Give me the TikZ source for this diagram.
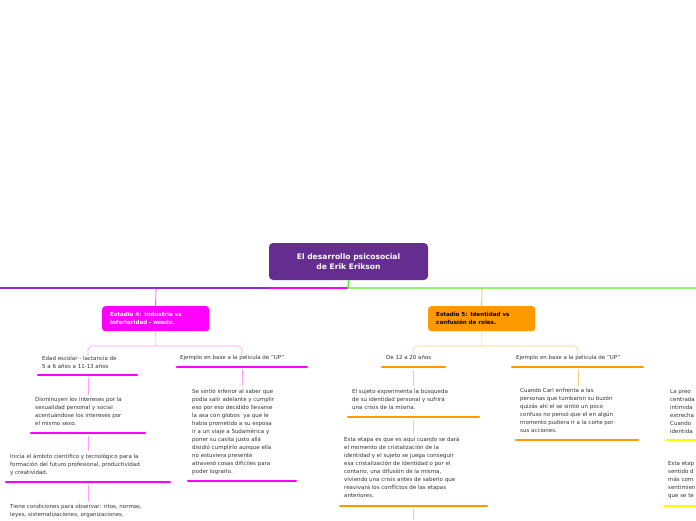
\documentclass[tikz,border=0pt]{standalone}
\usepackage{fontspec}
\setmainfont{DejaVu Sans}
\definecolor{purp}{HTML}{662D91}
\definecolor{viol}{HTML}{8A2BE2}
\definecolor{mag}{HTML}{FF00FF}
\definecolor{lmag}{HTML}{FF9EFF}
\definecolor{org}{HTML}{FF9900}
\definecolor{lorg}{HTML}{FFCC80}
\definecolor{yel}{HTML}{FFFF00}
\definecolor{grn}{HTML}{55EE22}
\definecolor{tx}{HTML}{333333}
\tikzset{
 txt/.style={anchor=north west,inner sep=0pt,align=left,text=tx,font=\fontsize{5.5}{8}\selectfont},
 ul/.style={line width=2.2pt,line cap=round},
 stage/.style={rounded corners=3pt,anchor=north west,minimum height=25pt,inner xsep=8pt,inner ysep=0pt,text width=91pt,align=left,font=\fontsize{5.6}{8}\selectfont\bfseries},
}
\begin{document}
\begin{tikzpicture}[x=1pt,y=-1pt]
\useasboundingbox (0,0) rectangle (696,520);
\clip (0,0) rectangle (696,520);
% title
\node[fill=purp,rounded corners=4pt,minimum width=159pt,minimum height=37pt,text=white,align=center,font=\fontsize{7.6}{10}\selectfont\bfseries] (title) at (348.5,261.5) {El desarrollo psicosocial\\de Erik Erikson};
\draw[viol,line width=1.3pt] (0,288) -- (270,288);
\draw[mag,line width=1.3pt] (270,288) -- (348,288);
\draw[grn,line width=1.3pt] (title.south) -- (348,288) -- (696,288);
% stage 4
\node[stage,fill=mag,text=white] (s4) at (102,306) {Estadio 4: Industria vs\\inferioridad - miedo.};
\draw[mag,line width=0.6pt] (156,288) -- (s4.north);
\draw[lmag,line width=0.6pt,rounded corners=4pt] (s4.south) -- (156,346) (88,356) |- (156,346) -| (242,356);
\node[txt] (a1) at (42,356) {Edad escolar - lactancia de\\5 a 6 años a 11-13 años};
\draw[ul,mag] (38,375) -- (137,375);
\node[txt] (a2) at (35,397) {Disminuyen los intereses por la\\sexualidad personal y social\\acentuándose los intereses por\\el mismo sexo.};
\draw[ul,mag] (31,433) -- (145,433);
\node[txt] (a3) at (10,454) {Inicia el ámbito científico y tecnológico para la\\formación del futuro profesional, productividad\\y creatividad.};
\draw[ul,mag] (6,482) -- (170,482);
\node[txt] (a4) at (10,504) {Tiene condiciones para observar: ritos, normas,\\leyes, sistematizaciones, organizaciones,};
\draw[lmag,line width=0.6pt] (88,378) -- (88,395) (88,436) -- (88,451) (88,485) -- (88,501);
\node[txt] (b1) at (180,355) {Ejemplo en base a la película de "UP"};
\draw[ul,mag] (177,367) -- (307,367);
\node[txt] (b2) at (192,389) {Se sintió inferior al saber que\\podía salir adelante y cumplir\\eso por eso decidido llevarse\\la asa con globos \ ya que le\\había prometido a su esposa\\ir a un viaje a Sudamérica y\\poner su casita justo allá\\disidió cumplirlo aunque ella\\no estuviera presente\\atravesó cosas difíciles para\\poder lograrlo.};
\draw[ul,mag] (188,481) -- (296,481);
\draw[lmag,line width=0.6pt] (242,370) -- (242,386);
% stage 5
\node[stage,fill=org,text=black] (s5) at (428,306) {Estadío 5: Identidad vs\\confusión de roles.};
\draw[org,line width=0.6pt] (482,288) -- (s5.north);
\draw[lorg,line width=0.6pt,rounded corners=4pt] (s5.south) -- (482,346) (413,356) |- (482,346) -| (578,356);
\node[txt] (c1) at (386,355) {De 12 a 20 años};
\draw[ul,org] (382,367) -- (445,367);
\node[txt] (c2) at (352,389) {El sujeto experimenta la búsqueda\\de su identidad personal y sufrirá\\una crisis de la misma.};
\draw[ul,org] (348,417) -- (479,417);
\node[txt] (c3) at (344,437) {Esta etapa es que es aquí cuando se dará\\el momento de cristalización de la\\identidad y el sujeto se juega conseguir\\esa cristalización de identidad o por el\\contario, una difusión de la misma,\\viviendo una crisis antes de saberlo que\\reavivará los conflictos de las etapas\\anteriores.};
\draw[ul,org] (340,506) -- (487,506);
\draw[lorg,line width=0.6pt] (413,370) -- (413,386) (413,420) -- (413,434) (413,509) -- (413,520);
\node[txt] (d1) at (516,355) {Ejemplo en base a la película de "UP"};
\draw[ul,org] (512,367) -- (643,367);
\node[txt] (d2) at (520,388) {Cuando Carl enfrenta a las\\personas que tumbaron su buzón\\quizás ahí el se sintió un poco\\confuso no pensó que el en algún\\momento pudiera ir a la corte por\\sus acciones.};
\draw[ul,org] (516,440) -- (638,440);
\draw[lorg,line width=0.6pt] (578,370) -- (578,386);
% right cut-off
\node[txt] (e1) at (670,389) {La preo\\centrada\\intimida\\estrecha\\Cuando\\identida};
\draw[ul,yel] (666,440) -- (700,440);
\node[txt] (e2) at (668,461) {Esta etap\\sentido d\\más com\\sentimien\\que se te};
\draw[ul,yel] (664,506) -- (700,506);
\end{tikzpicture}
\end{document}
